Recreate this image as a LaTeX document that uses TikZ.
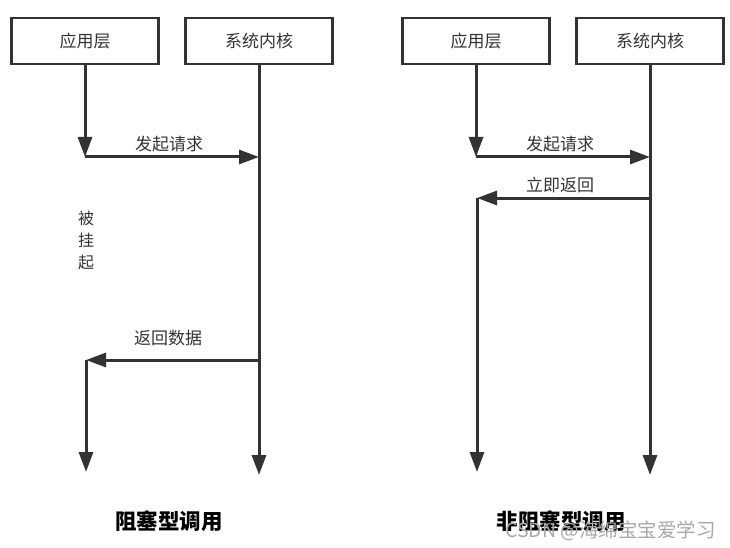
\documentclass[tikz,border=0pt]{standalone}
\usepackage{fontspec}
\newfontfamily\cjk{Noto Sans CJK SC}
\usetikzlibrary{arrows.meta}
\definecolor{linec}{HTML}{333333}
\definecolor{textc}{HTML}{333333}
\definecolor{wmc}{HTML}{A8A8A8}
\begin{document}
\begin{tikzpicture}[x=1pt,y=-1pt,
  box/.style={draw=linec, line width=2.3pt, minimum width=147pt, minimum height=46pt, inner sep=0pt, text=textc, font=\cjk\fontsize{17}{17}\selectfont},
  flow/.style={draw=linec, line width=3pt, -{Triangle[length=20pt,width=14pt]}},
  lbl/.style={text=textc, inner sep=0pt, font=\cjk\fontsize{17}{17}\selectfont},
  ttl/.style={text=black, inner sep=0pt, font=\cjk\bfseries\fontsize{21.5}{21.5}\selectfont}]
\useasboundingbox (0,0) rectangle (730,548);
% ---------- left: blocking ----------
\node[box] (appA) at (85,41) {应用层};
\node[box] (kerA) at (259,41) {系统内核};
\coordinate (a1) at (85,157);
\coordinate (k1) at (259,157);
\coordinate (k2) at (259,360);
\coordinate (a2) at (86,360);
\coordinate (a3) at (86,472);
\coordinate (kend) at (259,475);
\draw[flow] (appA.south) -- (a1);
\draw[flow] (a1) -- (k1);
\draw[flow] (kerA.south) -- (kend);
\draw[flow] (k2) -- (a2);
\draw[flow] (a2) -- (a3);
\node[lbl] (reqA) at (169,144) {发起请求};
\node[lbl] (retA) at (168,338) {返回数据};
\node[lbl, align=center, font=\cjk\fontsize{16}{22}\selectfont] (hang) at (86,240) {被\\挂\\起};
\node[ttl] (tA) at (169,521) {阻塞型调用};
% ---------- right: non-blocking ----------
\node[box] (appB) at (476,41) {应用层};
\node[box] (kerB) at (650,41) {系统内核};
\coordinate (b1) at (476,157);
\coordinate (m1) at (650,157);
\coordinate (m2) at (650,198);
\coordinate (b2) at (477,198);
\coordinate (b3) at (477,472);
\coordinate (mend) at (650,475);
\draw[flow] (appB.south) -- (b1);
\draw[flow] (b1) -- (m1);
\draw[flow] (kerB.south) -- (mend);
\draw[flow] (m2) -- (b2);
\draw[flow] (b2) -- (b3);
\node[lbl] (reqB) at (560,144) {发起请求};
\node[lbl] (retB) at (560,185) {立即返回};
\node[ttl] (tB) at (561,521) {非阻塞型调用};
\node[text=wmc, inner sep=0pt, font=\cjk\fontsize{19.5}{19.5}\selectfont, anchor=west] (wm) at (505,531) {CSDN @海绵宝宝爱学习};
\end{tikzpicture}
\end{document}
